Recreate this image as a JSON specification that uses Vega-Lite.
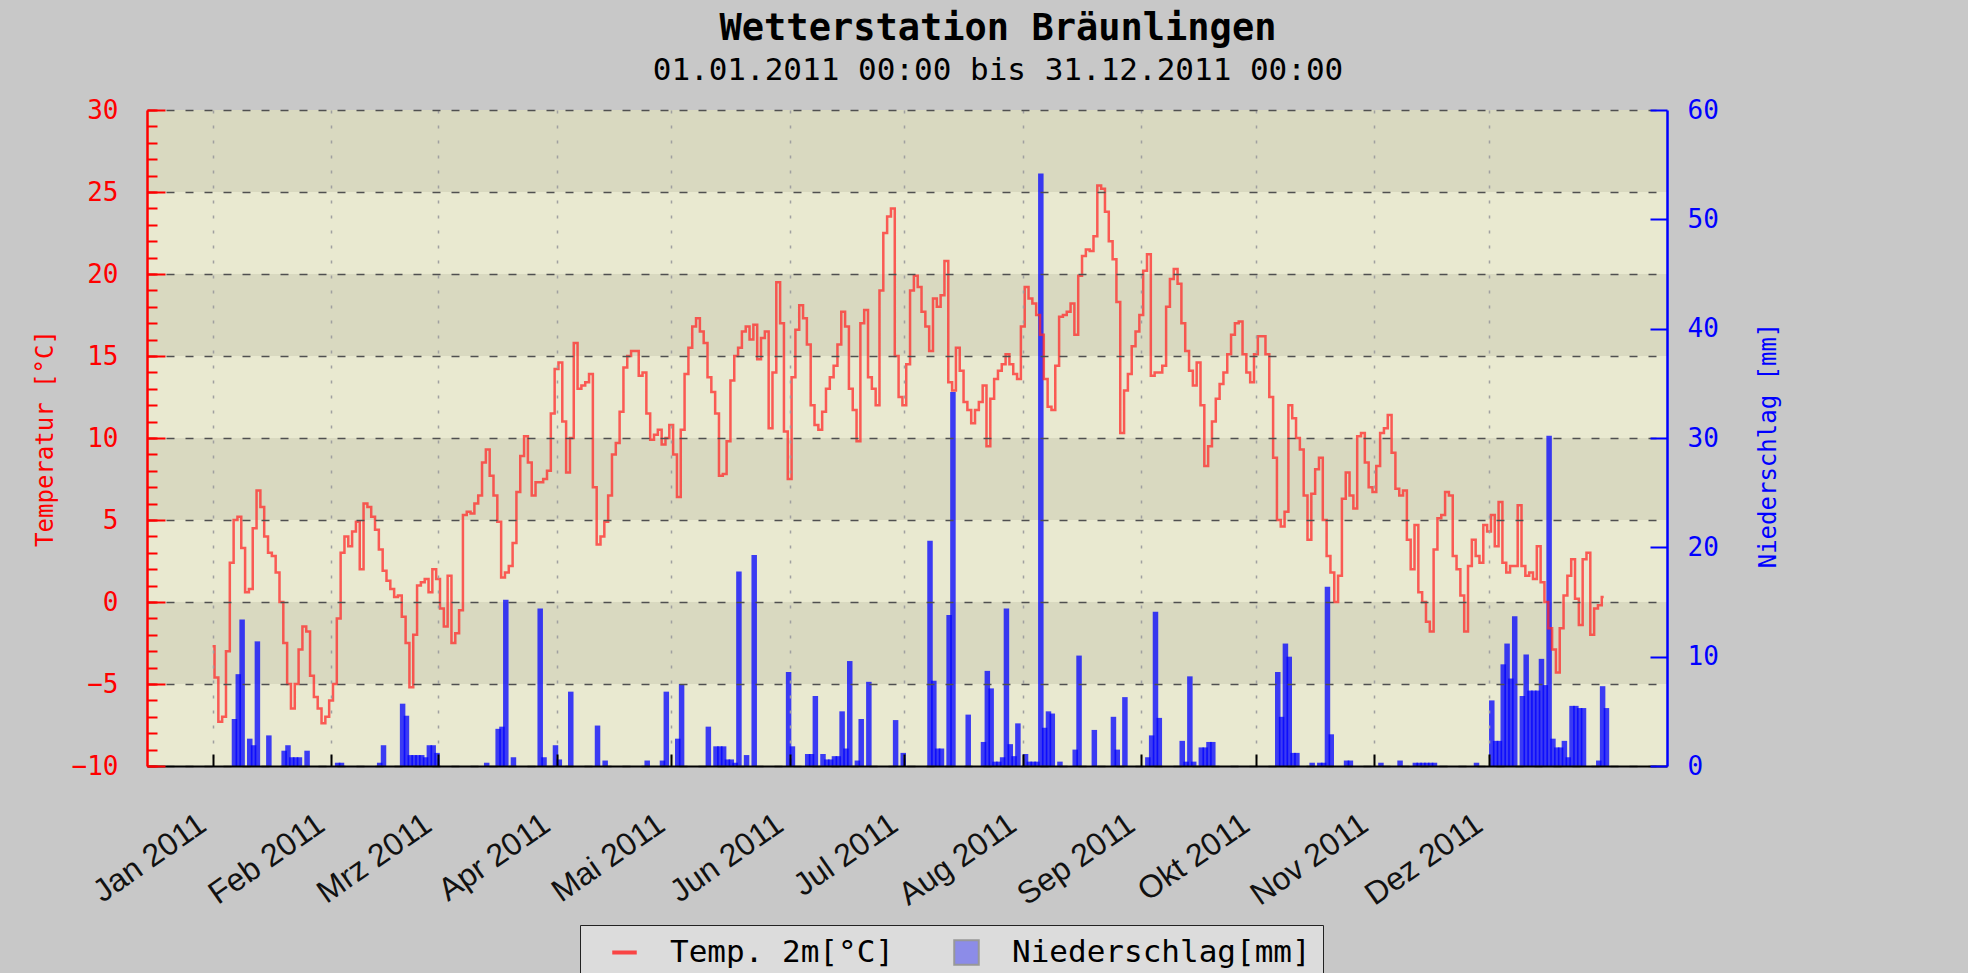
{
"$schema": "https://vega.github.io/schema/vega-lite/v6.json",
"width": 1520, "height": 656,
"autosize": {"type": "none"},
"padding": {"left": 147, "top": 110, "right": 301, "bottom": 207},
"background": "#c8c8c8",
"config": {"view": {"fill": "#e9e9d0", "stroke": null}, "font": "DejaVu Sans Mono"},
"title": {"text": "Wetterstation Bräunlingen", "subtitle": "01.01.2011 00:00 bis 31.12.2011 00:00", "anchor": "middle", "dx": 91, "font": "DejaVu Sans Mono", "fontSize": 37, "fontWeight": "bold", "color": "#000000", "subtitleFont": "DejaVu Sans Mono", "subtitleFontSize": 31, "subtitleColor": "#000000", "subtitlePadding": 8, "offset": 10},
"datasets": {"wx": [
{"date":"2011-01-01","temp":-2.7,"precip":0},{"date":"2011-01-02","temp":-4.6,"precip":0},{"date":"2011-01-03","temp":-7.3,"precip":0},{"date":"2011-01-04","temp":-7.0,"precip":0},{"date":"2011-01-05","temp":-3.0,"precip":0},{"date":"2011-01-06","temp":2.4,"precip":4.3},{"date":"2011-01-07","temp":5.0,"precip":8.4},{"date":"2011-01-08","temp":5.2,"precip":13.4},{"date":"2011-01-09","temp":3.3,"precip":0},{"date":"2011-01-10","temp":0.6,"precip":2.5},{"date":"2011-01-11","temp":0.8,"precip":1.9},{"date":"2011-01-12","temp":4.5,"precip":11.4},{"date":"2011-01-13","temp":6.8,"precip":0},{"date":"2011-01-14","temp":5.8,"precip":0},{"date":"2011-01-15","temp":4.0,"precip":2.8},{"date":"2011-01-16","temp":3.0,"precip":0},{"date":"2011-01-17","temp":2.8,"precip":0},{"date":"2011-01-18","temp":1.8,"precip":0},{"date":"2011-01-19","temp":0.0,"precip":1.4},{"date":"2011-01-20","temp":-2.5,"precip":1.9},{"date":"2011-01-21","temp":-5.0,"precip":0.8},{"date":"2011-01-22","temp":-6.5,"precip":0.8},{"date":"2011-01-23","temp":-5.0,"precip":0.8},{"date":"2011-01-24","temp":-2.9,"precip":0},{"date":"2011-01-25","temp":-1.5,"precip":1.4},{"date":"2011-01-26","temp":-1.8,"precip":0},{"date":"2011-01-27","temp":-4.5,"precip":0},{"date":"2011-01-28","temp":-5.8,"precip":0},{"date":"2011-01-29","temp":-6.5,"precip":0},{"date":"2011-01-30","temp":-7.4,"precip":0},{"date":"2011-01-31","temp":-7.0,"precip":0},
{"date":"2011-02-01","temp":-6.0,"precip":0},{"date":"2011-02-02","temp":-5.0,"precip":0.3},{"date":"2011-02-03","temp":-1.0,"precip":0.3},{"date":"2011-02-04","temp":3.0,"precip":0},{"date":"2011-02-05","temp":4.0,"precip":0},{"date":"2011-02-06","temp":3.4,"precip":0},{"date":"2011-02-07","temp":4.3,"precip":0},{"date":"2011-02-08","temp":4.9,"precip":0},{"date":"2011-02-09","temp":2.0,"precip":0},{"date":"2011-02-10","temp":6.0,"precip":0},{"date":"2011-02-11","temp":5.8,"precip":0},{"date":"2011-02-12","temp":5.2,"precip":0},{"date":"2011-02-13","temp":4.4,"precip":0.3},{"date":"2011-02-14","temp":3.2,"precip":1.9},{"date":"2011-02-15","temp":1.9,"precip":0},{"date":"2011-02-16","temp":1.3,"precip":0},{"date":"2011-02-17","temp":0.8,"precip":0},{"date":"2011-02-18","temp":0.3,"precip":0},{"date":"2011-02-19","temp":0.4,"precip":5.7},{"date":"2011-02-20","temp":-0.9,"precip":4.6},{"date":"2011-02-21","temp":-2.5,"precip":1.0},{"date":"2011-02-22","temp":-5.2,"precip":1.0},{"date":"2011-02-23","temp":-2.0,"precip":1.0},{"date":"2011-02-24","temp":1.0,"precip":1.0},{"date":"2011-02-25","temp":1.2,"precip":0.8},{"date":"2011-02-26","temp":1.4,"precip":1.9},{"date":"2011-02-27","temp":0.6,"precip":1.9},{"date":"2011-02-28","temp":2.0,"precip":1.2},
{"date":"2011-03-01","temp":1.4,"precip":0},{"date":"2011-03-02","temp":-0.4,"precip":0},{"date":"2011-03-03","temp":-1.5,"precip":0},{"date":"2011-03-04","temp":1.6,"precip":0},{"date":"2011-03-05","temp":-2.5,"precip":0},{"date":"2011-03-06","temp":-1.9,"precip":0},{"date":"2011-03-07","temp":-0.5,"precip":0},{"date":"2011-03-08","temp":5.3,"precip":0},{"date":"2011-03-09","temp":5.5,"precip":0},{"date":"2011-03-10","temp":5.4,"precip":0},{"date":"2011-03-11","temp":6.0,"precip":0},{"date":"2011-03-12","temp":6.5,"precip":0},{"date":"2011-03-13","temp":8.5,"precip":0.3},{"date":"2011-03-14","temp":9.3,"precip":0},{"date":"2011-03-15","temp":7.7,"precip":0},{"date":"2011-03-16","temp":6.5,"precip":3.4},{"date":"2011-03-17","temp":4.9,"precip":3.6},{"date":"2011-03-18","temp":1.5,"precip":15.2},{"date":"2011-03-19","temp":1.8,"precip":0},{"date":"2011-03-20","temp":2.2,"precip":0.8},{"date":"2011-03-21","temp":3.6,"precip":0},{"date":"2011-03-22","temp":6.7,"precip":0},{"date":"2011-03-23","temp":8.9,"precip":0},{"date":"2011-03-24","temp":10.1,"precip":0},{"date":"2011-03-25","temp":8.5,"precip":0},{"date":"2011-03-26","temp":6.5,"precip":0},{"date":"2011-03-27","temp":7.3,"precip":14.4},{"date":"2011-03-28","temp":7.3,"precip":0.8},{"date":"2011-03-29","temp":7.5,"precip":0},{"date":"2011-03-30","temp":8.0,"precip":0},{"date":"2011-03-31","temp":11.5,"precip":1.9},
{"date":"2011-04-01","temp":14.2,"precip":0.6},{"date":"2011-04-02","temp":14.6,"precip":0},{"date":"2011-04-03","temp":11.0,"precip":0},{"date":"2011-04-04","temp":7.9,"precip":6.8},{"date":"2011-04-05","temp":10.0,"precip":0},{"date":"2011-04-06","temp":15.8,"precip":0},{"date":"2011-04-07","temp":13.0,"precip":0},{"date":"2011-04-08","temp":13.2,"precip":0},{"date":"2011-04-09","temp":13.4,"precip":0},{"date":"2011-04-10","temp":13.9,"precip":0},{"date":"2011-04-11","temp":7.0,"precip":3.7},{"date":"2011-04-12","temp":3.5,"precip":0},{"date":"2011-04-13","temp":4.0,"precip":0.5},{"date":"2011-04-14","temp":4.9,"precip":0},{"date":"2011-04-15","temp":6.5,"precip":0},{"date":"2011-04-16","temp":9.0,"precip":0},{"date":"2011-04-17","temp":9.7,"precip":0},{"date":"2011-04-18","temp":11.6,"precip":0},{"date":"2011-04-19","temp":14.3,"precip":0},{"date":"2011-04-20","temp":15.0,"precip":0},{"date":"2011-04-21","temp":15.3,"precip":0},{"date":"2011-04-22","temp":15.3,"precip":0},{"date":"2011-04-23","temp":13.8,"precip":0},{"date":"2011-04-24","temp":14.0,"precip":0.5},{"date":"2011-04-25","temp":11.5,"precip":0},{"date":"2011-04-26","temp":9.9,"precip":0},{"date":"2011-04-27","temp":10.2,"precip":0},{"date":"2011-04-28","temp":10.5,"precip":0.5},{"date":"2011-04-29","temp":9.6,"precip":6.8},{"date":"2011-04-30","temp":10.0,"precip":0},
{"date":"2011-05-01","temp":10.8,"precip":0},{"date":"2011-05-02","temp":9.0,"precip":2.5},{"date":"2011-05-03","temp":6.4,"precip":7.5},{"date":"2011-05-04","temp":10.5,"precip":0},{"date":"2011-05-05","temp":13.9,"precip":0},{"date":"2011-05-06","temp":15.5,"precip":0},{"date":"2011-05-07","temp":16.8,"precip":0},{"date":"2011-05-08","temp":17.3,"precip":0},{"date":"2011-05-09","temp":16.5,"precip":0},{"date":"2011-05-10","temp":15.8,"precip":3.6},{"date":"2011-05-11","temp":13.7,"precip":0},{"date":"2011-05-12","temp":12.8,"precip":1.8},{"date":"2011-05-13","temp":11.5,"precip":1.8},{"date":"2011-05-14","temp":7.7,"precip":1.8},{"date":"2011-05-15","temp":7.8,"precip":0.6},{"date":"2011-05-16","temp":9.8,"precip":0.6},{"date":"2011-05-17","temp":13.5,"precip":0.3},{"date":"2011-05-18","temp":15.0,"precip":17.8},{"date":"2011-05-19","temp":15.5,"precip":0},{"date":"2011-05-20","temp":16.5,"precip":1.0},{"date":"2011-05-21","temp":16.8,"precip":0},{"date":"2011-05-22","temp":16.0,"precip":19.3},{"date":"2011-05-23","temp":16.9,"precip":0},{"date":"2011-05-24","temp":14.8,"precip":0},{"date":"2011-05-25","temp":16.1,"precip":0},{"date":"2011-05-26","temp":16.5,"precip":0},{"date":"2011-05-27","temp":10.6,"precip":0},{"date":"2011-05-28","temp":14.0,"precip":0},{"date":"2011-05-29","temp":19.5,"precip":0},{"date":"2011-05-30","temp":17.0,"precip":0},{"date":"2011-05-31","temp":10.4,"precip":8.6},
{"date":"2011-06-01","temp":7.5,"precip":1.8},{"date":"2011-06-02","temp":13.7,"precip":0},{"date":"2011-06-03","temp":16.6,"precip":0},{"date":"2011-06-04","temp":18.1,"precip":0},{"date":"2011-06-05","temp":17.3,"precip":1.1},{"date":"2011-06-06","temp":15.7,"precip":1.1},{"date":"2011-06-07","temp":12.0,"precip":6.4},{"date":"2011-06-08","temp":10.8,"precip":0},{"date":"2011-06-09","temp":10.5,"precip":1.1},{"date":"2011-06-10","temp":11.6,"precip":0.6},{"date":"2011-06-11","temp":13.0,"precip":0.6},{"date":"2011-06-12","temp":13.7,"precip":0.9},{"date":"2011-06-13","temp":14.4,"precip":0.9},{"date":"2011-06-14","temp":15.7,"precip":5.0},{"date":"2011-06-15","temp":17.7,"precip":1.6},{"date":"2011-06-16","temp":16.8,"precip":9.6},{"date":"2011-06-17","temp":13.0,"precip":0},{"date":"2011-06-18","temp":11.7,"precip":0.5},{"date":"2011-06-19","temp":9.8,"precip":4.3},{"date":"2011-06-20","temp":17.0,"precip":0},{"date":"2011-06-21","temp":17.8,"precip":7.7},{"date":"2011-06-22","temp":13.7,"precip":0},{"date":"2011-06-23","temp":13.0,"precip":0},{"date":"2011-06-24","temp":12.0,"precip":0},{"date":"2011-06-25","temp":19.0,"precip":0},{"date":"2011-06-26","temp":22.5,"precip":0},{"date":"2011-06-27","temp":23.5,"precip":0},{"date":"2011-06-28","temp":24.0,"precip":4.2},{"date":"2011-06-29","temp":15.0,"precip":0},{"date":"2011-06-30","temp":12.5,"precip":1.2},
{"date":"2011-07-01","temp":12.0,"precip":0},{"date":"2011-07-02","temp":14.5,"precip":0},{"date":"2011-07-03","temp":19.0,"precip":0},{"date":"2011-07-04","temp":19.9,"precip":0},{"date":"2011-07-05","temp":19.2,"precip":0},{"date":"2011-07-06","temp":17.7,"precip":0},{"date":"2011-07-07","temp":16.8,"precip":20.6},{"date":"2011-07-08","temp":15.3,"precip":7.8},{"date":"2011-07-09","temp":18.5,"precip":1.6},{"date":"2011-07-10","temp":18.0,"precip":1.6},{"date":"2011-07-11","temp":18.7,"precip":0},{"date":"2011-07-12","temp":20.8,"precip":13.8},{"date":"2011-07-13","temp":13.4,"precip":34.2},{"date":"2011-07-14","temp":12.9,"precip":0},{"date":"2011-07-15","temp":15.5,"precip":0},{"date":"2011-07-16","temp":14.1,"precip":0},{"date":"2011-07-17","temp":12.2,"precip":4.7},{"date":"2011-07-18","temp":11.7,"precip":0},{"date":"2011-07-19","temp":10.9,"precip":0},{"date":"2011-07-20","temp":11.7,"precip":0},{"date":"2011-07-21","temp":12.2,"precip":2.2},{"date":"2011-07-22","temp":13.2,"precip":8.7},{"date":"2011-07-23","temp":9.5,"precip":7.1},{"date":"2011-07-24","temp":12.4,"precip":0.4},{"date":"2011-07-25","temp":13.6,"precip":0.4},{"date":"2011-07-26","temp":14.1,"precip":0.8},{"date":"2011-07-27","temp":14.5,"precip":14.4},{"date":"2011-07-28","temp":15.1,"precip":2.0},{"date":"2011-07-29","temp":14.5,"precip":0.9},{"date":"2011-07-30","temp":13.9,"precip":3.9},{"date":"2011-07-31","temp":13.6,"precip":0},
{"date":"2011-08-01","temp":16.8,"precip":1.1},{"date":"2011-08-02","temp":19.2,"precip":0.4},{"date":"2011-08-03","temp":18.5,"precip":0.4},{"date":"2011-08-04","temp":18.2,"precip":0.4},{"date":"2011-08-05","temp":17.5,"precip":54.2},{"date":"2011-08-06","temp":16.3,"precip":3.5},{"date":"2011-08-07","temp":13.6,"precip":5.0},{"date":"2011-08-08","temp":11.9,"precip":4.8},{"date":"2011-08-09","temp":11.7,"precip":0},{"date":"2011-08-10","temp":14.4,"precip":0.4},{"date":"2011-08-11","temp":17.4,"precip":0},{"date":"2011-08-12","temp":17.5,"precip":0},{"date":"2011-08-13","temp":17.7,"precip":0},{"date":"2011-08-14","temp":18.2,"precip":1.5},{"date":"2011-08-15","temp":16.3,"precip":10.1},{"date":"2011-08-16","temp":19.9,"precip":0},{"date":"2011-08-17","temp":21.1,"precip":0},{"date":"2011-08-18","temp":21.5,"precip":0},{"date":"2011-08-19","temp":21.4,"precip":3.3},{"date":"2011-08-20","temp":22.3,"precip":0},{"date":"2011-08-21","temp":25.4,"precip":0},{"date":"2011-08-22","temp":25.2,"precip":0},{"date":"2011-08-23","temp":23.8,"precip":0},{"date":"2011-08-24","temp":22.0,"precip":4.5},{"date":"2011-08-25","temp":20.9,"precip":1.5},{"date":"2011-08-26","temp":18.3,"precip":0},{"date":"2011-08-27","temp":10.3,"precip":6.3},{"date":"2011-08-28","temp":12.9,"precip":0},{"date":"2011-08-29","temp":13.9,"precip":0},{"date":"2011-08-30","temp":15.6,"precip":0},{"date":"2011-08-31","temp":16.5,"precip":0},
{"date":"2011-09-01","temp":17.5,"precip":0},{"date":"2011-09-02","temp":20.2,"precip":0.8},{"date":"2011-09-03","temp":21.2,"precip":2.8},{"date":"2011-09-04","temp":13.8,"precip":14.1},{"date":"2011-09-05","temp":14.0,"precip":4.4},{"date":"2011-09-06","temp":14.0,"precip":0},{"date":"2011-09-07","temp":14.4,"precip":0},{"date":"2011-09-08","temp":18.0,"precip":0},{"date":"2011-09-09","temp":19.7,"precip":0},{"date":"2011-09-10","temp":20.3,"precip":0},{"date":"2011-09-11","temp":19.4,"precip":2.3},{"date":"2011-09-12","temp":17.0,"precip":0.4},{"date":"2011-09-13","temp":15.3,"precip":8.2},{"date":"2011-09-14","temp":14.1,"precip":0.4},{"date":"2011-09-15","temp":13.2,"precip":0},{"date":"2011-09-16","temp":14.6,"precip":1.7},{"date":"2011-09-17","temp":12.0,"precip":1.7},{"date":"2011-09-18","temp":8.3,"precip":2.2},{"date":"2011-09-19","temp":9.5,"precip":2.2},{"date":"2011-09-20","temp":11.0,"precip":0},{"date":"2011-09-21","temp":12.4,"precip":0},{"date":"2011-09-22","temp":13.3,"precip":0},{"date":"2011-09-23","temp":14.0,"precip":0},{"date":"2011-09-24","temp":15.1,"precip":0},{"date":"2011-09-25","temp":16.3,"precip":0},{"date":"2011-09-26","temp":17.0,"precip":0},{"date":"2011-09-27","temp":17.1,"precip":0},{"date":"2011-09-28","temp":15.1,"precip":0},{"date":"2011-09-29","temp":14.0,"precip":0},{"date":"2011-09-30","temp":13.4,"precip":0},
{"date":"2011-10-01","temp":15.1,"precip":0},{"date":"2011-10-02","temp":16.2,"precip":0},{"date":"2011-10-03","temp":16.2,"precip":0},{"date":"2011-10-04","temp":15.1,"precip":0},{"date":"2011-10-05","temp":12.5,"precip":0},{"date":"2011-10-06","temp":8.8,"precip":8.6},{"date":"2011-10-07","temp":5.0,"precip":4.5},{"date":"2011-10-08","temp":4.6,"precip":11.2},{"date":"2011-10-09","temp":5.5,"precip":10.0},{"date":"2011-10-10","temp":12.0,"precip":1.2},{"date":"2011-10-11","temp":11.2,"precip":1.2},{"date":"2011-10-12","temp":10.0,"precip":0},{"date":"2011-10-13","temp":9.3,"precip":0},{"date":"2011-10-14","temp":6.5,"precip":0},{"date":"2011-10-15","temp":3.8,"precip":0.3},{"date":"2011-10-16","temp":6.6,"precip":0},{"date":"2011-10-17","temp":8.1,"precip":0.3},{"date":"2011-10-18","temp":8.8,"precip":0.3},{"date":"2011-10-19","temp":5.0,"precip":16.4},{"date":"2011-10-20","temp":2.8,"precip":2.9},{"date":"2011-10-21","temp":1.8,"precip":0},{"date":"2011-10-22","temp":0.0,"precip":0},{"date":"2011-10-23","temp":1.6,"precip":0},{"date":"2011-10-24","temp":6.3,"precip":0.5},{"date":"2011-10-25","temp":7.9,"precip":0.5},{"date":"2011-10-26","temp":6.5,"precip":0},{"date":"2011-10-27","temp":5.7,"precip":0},{"date":"2011-10-28","temp":10.1,"precip":0},{"date":"2011-10-29","temp":10.3,"precip":0},{"date":"2011-10-30","temp":8.5,"precip":0},{"date":"2011-10-31","temp":7.0,"precip":0},
{"date":"2011-11-01","temp":6.7,"precip":0},{"date":"2011-11-02","temp":8.3,"precip":0.3},{"date":"2011-11-03","temp":10.3,"precip":0},{"date":"2011-11-04","temp":10.6,"precip":0},{"date":"2011-11-05","temp":11.4,"precip":0},{"date":"2011-11-06","temp":9.1,"precip":0},{"date":"2011-11-07","temp":6.9,"precip":0.5},{"date":"2011-11-08","temp":6.5,"precip":0},{"date":"2011-11-09","temp":6.8,"precip":0},{"date":"2011-11-10","temp":3.8,"precip":0},{"date":"2011-11-11","temp":2.0,"precip":0.3},{"date":"2011-11-12","temp":4.7,"precip":0.3},{"date":"2011-11-13","temp":0.6,"precip":0.3},{"date":"2011-11-14","temp":0.0,"precip":0.3},{"date":"2011-11-15","temp":-1.2,"precip":0.3},{"date":"2011-11-16","temp":-1.8,"precip":0.3},{"date":"2011-11-17","temp":3.2,"precip":0},{"date":"2011-11-18","temp":5.1,"precip":0},{"date":"2011-11-19","temp":5.3,"precip":0},{"date":"2011-11-20","temp":6.7,"precip":0},{"date":"2011-11-21","temp":6.5,"precip":0},{"date":"2011-11-22","temp":2.8,"precip":0},{"date":"2011-11-23","temp":2.0,"precip":0},{"date":"2011-11-24","temp":0.4,"precip":0},{"date":"2011-11-25","temp":-1.8,"precip":0},{"date":"2011-11-26","temp":2.2,"precip":0},{"date":"2011-11-27","temp":3.8,"precip":0.3},{"date":"2011-11-28","temp":2.8,"precip":0},{"date":"2011-11-29","temp":2.4,"precip":0},{"date":"2011-11-30","temp":4.7,"precip":0},
{"date":"2011-12-01","temp":4.3,"precip":6.0},{"date":"2011-12-02","temp":5.3,"precip":2.3},{"date":"2011-12-03","temp":3.4,"precip":2.3},{"date":"2011-12-04","temp":6.1,"precip":9.3},{"date":"2011-12-05","temp":2.4,"precip":11.2},{"date":"2011-12-06","temp":1.8,"precip":8.0},{"date":"2011-12-07","temp":2.2,"precip":13.7},{"date":"2011-12-08","temp":2.2,"precip":0},{"date":"2011-12-09","temp":5.9,"precip":6.4},{"date":"2011-12-10","temp":2.2,"precip":10.2},{"date":"2011-12-11","temp":1.6,"precip":6.9},{"date":"2011-12-12","temp":1.8,"precip":6.9},{"date":"2011-12-13","temp":1.4,"precip":6.9},{"date":"2011-12-14","temp":3.4,"precip":9.8},{"date":"2011-12-15","temp":1.2,"precip":7.4},{"date":"2011-12-16","temp":0.0,"precip":30.2},{"date":"2011-12-17","temp":-1.6,"precip":2.5},{"date":"2011-12-18","temp":-2.9,"precip":1.7},{"date":"2011-12-19","temp":-4.3,"precip":1.7},{"date":"2011-12-20","temp":-1.6,"precip":2.3},{"date":"2011-12-21","temp":0.4,"precip":0.8},{"date":"2011-12-22","temp":1.6,"precip":5.5},{"date":"2011-12-23","temp":2.6,"precip":5.5},{"date":"2011-12-24","temp":0.2,"precip":5.3},{"date":"2011-12-25","temp":-1.4,"precip":5.3},{"date":"2011-12-26","temp":2.6,"precip":0},{"date":"2011-12-27","temp":3.0,"precip":0},{"date":"2011-12-28","temp":-2.0,"precip":0},{"date":"2011-12-29","temp":-0.4,"precip":0.5},{"date":"2011-12-30","temp":-0.2,"precip":7.3},{"date":"2011-12-31","temp":0.3,"precip":5.3}
]},
"layer": [
{
"data": {"values": [{"lo": 25, "hi": 30}, {"lo": 15, "hi": 20}, {"lo": 5, "hi": 10}, {"lo": -5, "hi": 0}]},
"mark": {"type": "rect", "color": "#d9d9c0"},
"encoding": {
"y": {"field": "lo", "type": "quantitative", "scale": {"domain": [-10, 30], "nice": false, "zero": false},
"axis": {"orient": "left", "values": [-10,-9,-8,-7,-6,-5,-4,-3,-2,-1,0,1,2,3,4,5,6,7,8,9,10,11,12,13,14,15,16,17,18,19,20,21,22,23,24,25,26,27,28,29,30], "labels": false, "domain": false, "grid": false, "title": null, "tickSize": -10, "tickColor": "#ff0000", "tickWidth": 2, "zindex": 1}},
"y2": {"field": "hi"}
}
},
{
"data": {"name": "wx"},
"transform": [{"filter": "datum.precip > 0"}],
"mark": {"type": "bar", "width": 5.5, "xOffset": 2.75, "opacity": 0.75},
"encoding": {
"x": {"field": "date", "type": "temporal", "title": null,
"scale": {"type": "utc", "domain": [{"year": 2010, "month": 12, "date": 16, "hours": 3, "minutes": 22, "utc": true}, {"year": 2012, "month": 1, "date": 15, "hours": 6, "minutes": 14, "utc": true}]},
"axis": {"values": [{"year":2011,"month":1,"date":1,"utc":true},{"year":2011,"month":2,"date":1,"utc":true},{"year":2011,"month":3,"date":1,"utc":true},{"year":2011,"month":4,"date":1,"utc":true},{"year":2011,"month":5,"date":1,"utc":true},{"year":2011,"month":6,"date":1,"utc":true},{"year":2011,"month":7,"date":1,"utc":true},{"year":2011,"month":8,"date":1,"utc":true},{"year":2011,"month":9,"date":1,"utc":true},{"year":2011,"month":10,"date":1,"utc":true},{"year":2011,"month":11,"date":1,"utc":true},{"year":2011,"month":12,"date":1,"utc":true}],
"labelExpr": "['Jan','Feb','Mrz','Apr','Mai','Jun','Jul','Aug','Sep','Okt','Nov','Dez'][utcmonth(datum.value)] + ' ' + utcyear(datum.value)",
"labelAngle": -35, "labelAlign": "right", "labelBaseline": "top", "labelFont": "Liberation Sans", "labelFontSize": 32, "labelColor": "#111111", "labelPadding": 54, "labelOffset": -19, "labelOverlap": false, "labelBound": false, "labelFlush": false,
"tickSize": -12, "tickColor": "#000000", "tickWidth": 2, "domainColor": "#000000", "domainWidth": 2,
"grid": true, "gridColor": "#a0a0a0", "gridDash": [3, 12], "gridWidth": 1.5, "zindex": 1}},
"y": {"field": "precip", "type": "quantitative", "scale": {"domain": [0, 60], "nice": false},
"axis": {"orient": "right", "values": [0, 10, 20, 30, 40, 50, 60], "title": "Niederschlag [mm]", "titleColor": "#0000ff", "titleFont": "DejaVu Sans Mono", "titleFontSize": 24, "titleFontWeight": "normal", "titleX": 101, "titleY": 335, "titleAngle": -90, "titleAlign": "center", "titleBaseline": "middle",
"labelColor": "#0000ff", "labelFont": "DejaVu Sans Mono", "labelFontSize": 26, "labelPadding": 37, "tickSize": -17, "tickColor": "#0000ff", "tickWidth": 2, "domainColor": "#0000ff", "domainWidth": 2.5, "grid": false, "zindex": 1}},
"fill": {"datum": "Niederschlag[mm]",
"scale": {"domain": ["Niederschlag[mm]"], "range": ["#0000ff"]},
"legend": {"orient": "none", "legendX": 433, "legendY": 815, "direction": "horizontal", "title": null, "zindex": 1,
"fillColor": "#dcdcdc", "strokeColor": "#222222", "padding": 12, "labelFont": "DejaVu Sans Mono", "labelFontSize": 31, "labelColor": "#000000", "labelLimit": 600,
"symbolType": "square", "symbolSize": 600, "symbolOffset": 359, "labelOffset": 30, "symbolOpacity": 0.36, "symbolStrokeColor": "#222222", "symbolStrokeWidth": 2}}
}
},
{
"data": {"name": "wx"},
"mark": {"type": "line", "interpolate": "step", "strokeWidth": 2.5, "opacity": 0.75},
"encoding": {
"x": {"field": "date", "type": "temporal", "title": null,
"scale": {"type": "utc", "domain": [{"year": 2010, "month": 12, "date": 16, "hours": 3, "minutes": 22, "utc": true}, {"year": 2012, "month": 1, "date": 15, "hours": 6, "minutes": 14, "utc": true}]},
"axis": {"values": [{"year":2011,"month":1,"date":1,"utc":true},{"year":2011,"month":2,"date":1,"utc":true},{"year":2011,"month":3,"date":1,"utc":true},{"year":2011,"month":4,"date":1,"utc":true},{"year":2011,"month":5,"date":1,"utc":true},{"year":2011,"month":6,"date":1,"utc":true},{"year":2011,"month":7,"date":1,"utc":true},{"year":2011,"month":8,"date":1,"utc":true},{"year":2011,"month":9,"date":1,"utc":true},{"year":2011,"month":10,"date":1,"utc":true},{"year":2011,"month":11,"date":1,"utc":true},{"year":2011,"month":12,"date":1,"utc":true}],
"labelExpr": "['Jan','Feb','Mrz','Apr','Mai','Jun','Jul','Aug','Sep','Okt','Nov','Dez'][utcmonth(datum.value)] + ' ' + utcyear(datum.value)",
"labelAngle": -35, "labelAlign": "right", "labelBaseline": "top", "labelFont": "Liberation Sans", "labelFontSize": 32, "labelColor": "#111111", "labelPadding": 54, "labelOffset": -19, "labelOverlap": false, "labelBound": false, "labelFlush": false,
"tickSize": -12, "tickColor": "#000000", "tickWidth": 2, "domainColor": "#000000", "domainWidth": 2,
"grid": true, "gridColor": "#a0a0a0", "gridDash": [3, 12], "gridWidth": 1.5, "zindex": 1}},
"y": {"field": "temp", "type": "quantitative", "scale": {"domain": [-10, 30], "nice": false, "zero": false},
"axis": {"orient": "left", "values": [-10, -5, 0, 5, 10, 15, 20, 25, 30], "title": "Temperatur [°C]", "titleColor": "#ff0000", "titleFont": "DejaVu Sans Mono", "titleFontSize": 24, "titleFontWeight": "normal", "titleX": -102, "titleY": 328, "titleAngle": -90, "titleAlign": "center", "titleBaseline": "middle",
"labelColor": "#ff0000", "labelFont": "DejaVu Sans Mono", "labelFontSize": 26, "labelPadding": 47, "tickSize": -18, "tickColor": "#ff0000", "tickWidth": 2, "domainColor": "#ff0000", "domainWidth": 2.5,
"grid": true, "gridColor": "#505050", "gridDash": [8, 11], "gridWidth": 1.5, "zindex": 1}},
"stroke": {"datum": "Temp. 2m[°C]",
"scale": {"domain": ["Temp. 2m[°C]"], "range": ["#ff2a2a"]},
"legend": {"orient": "none", "legendX": 433, "legendY": 815, "direction": "horizontal", "title": null, "zindex": 3,
"padding": 12, "labelFont": "DejaVu Sans Mono", "labelFontSize": 31, "labelColor": "#000000", "labelLimit": 600,
"symbolType": "stroke", "symbolSize": 600, "symbolOffset": 17, "labelOffset": 30, "symbolStrokeWidth": 4, "symbolOpacity": 0.85}}
}
}
],
"resolve": {"scale": {"y": "independent"}, "axis": {"y": "independent"}}
}
